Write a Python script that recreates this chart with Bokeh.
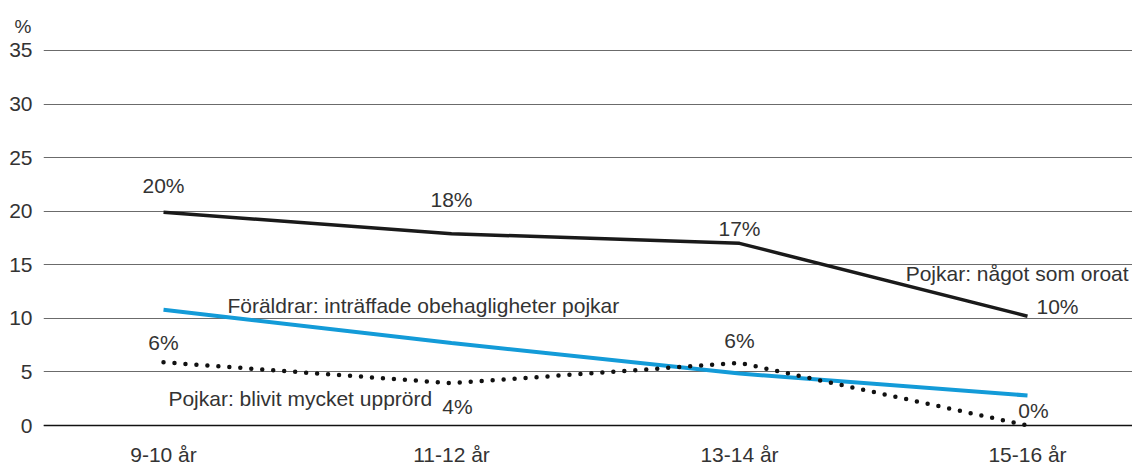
from bokeh.plotting import figure
from bokeh.models import Range1d, FixedTicker, Span, Title, ColumnDataSource
from bokeh.core.properties import value
from bokeh.embed import file_html
from bokeh.resources import INLINE

# ---- data ----
categories = ["9-10 år", "11-12 år", "13-14 år", "15-16 år"]
oroat = [19.9, 17.9, 17.0, 10.2]          # Pojkar: något som oroat
foraldrar = [10.8, 7.7, 4.85, 2.8]        # Föräldrar: inträffade obehagligheter pojkar
upprord = [5.9, 3.95, 5.85, 0.0]          # Pojkar: blivit mycket upprörd
oroat_labels = ["20%", "18%", "17%", "10%"]
upprord_labels = ["6%", "4%", "6%", "0%"]
y_ticks = [0, 5, 10, 15, 20, 25, 30, 35]

FONT = "Liberation Sans"
FS = "21px"
TXT = "#333333"

xs = list(range(len(categories)))

p = figure(width=1132, height=469, output_backend="svg", toolbar_location=None,
           x_range=Range1d(-0.4167, 3.3646), y_range=Range1d(-0.373, 35.373),
           min_border_left=43, min_border_right=0, min_border_top=46, min_border_bottom=40)
p.outline_line_color = None
p.background_fill_color = "white"

p.title = Title(text="%", align="left", offset=-29, standoff=19,
                text_font=FONT, text_font_size="19px", text_font_style="normal",
                text_color=TXT)

# axes
p.xaxis.ticker = FixedTicker(ticks=xs)
p.xaxis.major_label_overrides = {i: c for i, c in enumerate(categories)}
p.yaxis.ticker = FixedTicker(ticks=y_ticks)
for ax in (p.xaxis[0], p.yaxis[0]):
    ax.axis_line_color = None
    ax.major_tick_line_color = None
    ax.minor_tick_line_color = None
    ax.major_tick_out = 0
    ax.major_tick_in = 0
    ax.minor_tick_out = 0
    ax.major_label_text_font = FONT
    ax.major_label_text_font_size = FS
    ax.major_label_text_color = TXT
p.xaxis.major_label_standoff = 13
p.yaxis.major_label_standoff = 11

p.xgrid.grid_line_color = None
p.ygrid.ticker = FixedTicker(ticks=y_ticks)
p.ygrid.grid_line_color = "#6b6b6b"
p.ygrid.grid_line_width = 1

p.add_layout(Span(location=0, dimension="width", line_color="#111111", line_width=1.5))

# lines
p.line(xs, oroat, line_color="#1a1a1a", line_width=3.5)
p.line(xs, foraldrar, line_color="#139bd8", line_width=4)
p.line(xs, upprord, line_color="#111111", line_width=4.5, line_dash="0 11", line_cap="round")

# value labels
src_o = ColumnDataSource(dict(x=xs, y=oroat, t=oroat_labels,
                              dx=[0, 0, 0, 30], dy=[-27, -34, -15, -10]))
p.text(x="x", y="y", text="t", x_offset="dx", y_offset="dy", source=src_o,
       text_font=value(FONT), text_font_size=FS, text_color=TXT,
       text_align="center", text_baseline="middle")
src_u = ColumnDataSource(dict(x=xs, y=upprord, t=upprord_labels,
                              dx=[0, 6, 0, 6], dy=[-20, 23, -22, -15]))
p.text(x="x", y="y", text="t", x_offset="dx", y_offset="dy", source=src_u,
       text_font=value(FONT), text_font_size=FS, text_color=TXT,
       text_align="center", text_baseline="middle")

# series labels
p.text(x=[3.351], y=[14.2], text=["Pojkar: något som oroat"],
       text_font=value(FONT), text_font_size=FS, text_color=TXT,
       text_align="right", text_baseline="middle")
p.text(x=[0.222], y=[11.2], text=["Föräldrar: inträffade obehagligheter pojkar"],
       text_font=value(FONT), text_font_size=FS, text_color=TXT,
       text_align="left", text_baseline="middle")
p.text(x=[0.017], y=[2.5], text=["Pojkar: blivit mycket upprörd"],
       text_font=value(FONT), text_font_size=FS, text_color=TXT,
       text_align="left", text_baseline="middle")

open("out.html", "w").write(file_html(p, INLINE))
